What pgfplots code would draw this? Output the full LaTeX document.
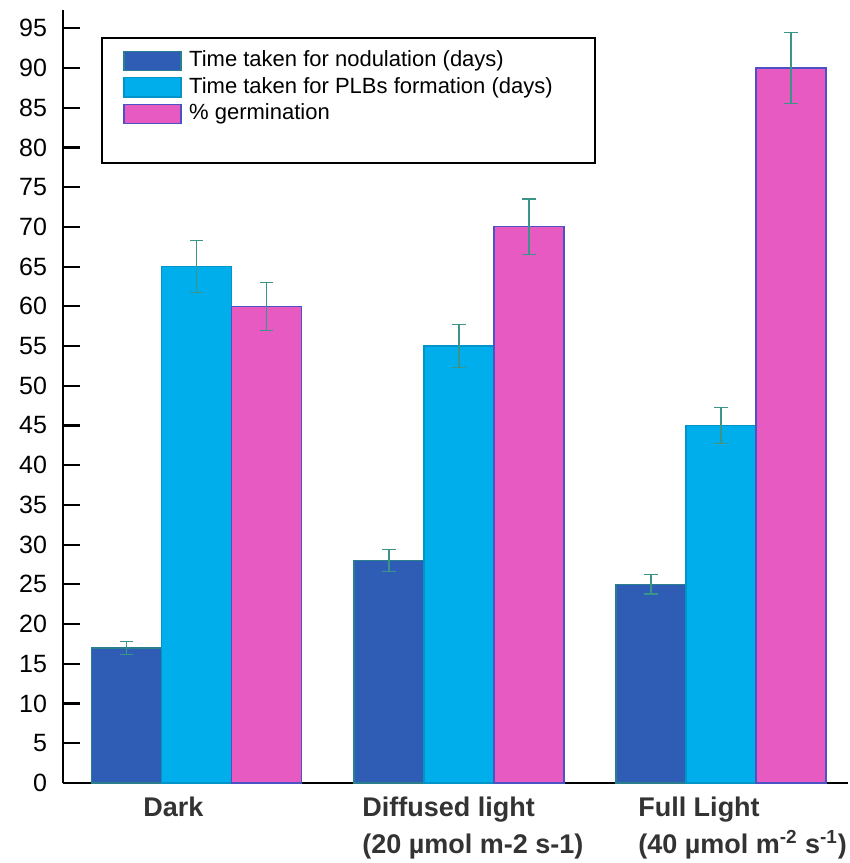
\documentclass[border=0pt]{standalone}
\usepackage{pgfplots}
\pgfplotsset{compat=1.18}
\usepackage{fontspec}
\setmainfont{Liberation Sans}
\definecolor{nodc}{HTML}{2F5DB6}
\definecolor{nodedge}{HTML}{2A7F8F}
\definecolor{plbc}{HTML}{00AEEB}
\definecolor{germc}{HTML}{E65AC2}
\definecolor{germedge}{HTML}{4A52C4}
\definecolor{errc}{HTML}{3A9488}
\pgfplotstableread{
x nod nodE plb plbE germ germE
0 17 0.8 65 3.3 60 3.0
1 28 1.4 55 2.7 70 3.5
2 25 1.2 45 2.3 90 4.5
}\datatab
\begin{document}
\begin{tikzpicture}
\path[use as bounding box] (-31.5pt,-40pt) rectangle (393.5pt,391.5pt);
\begin{axis}[
  scale only axis,
  width=392.5pt, height=386.5pt,
  at={(0pt,0pt)}, anchor=south west,
  ybar=0pt, bar width=35pt,
  xmin=-0.511, xmax=2.485,
  ymin=0, ymax=97.3,
  axis x line=bottom, axis y line=left,
  axis line style={-, line width=1.25pt, black},
  xtick=\empty,
  ytick={0,5,...,95},
  tick align=inside,
  major tick length=8.5pt,
  ytick style={line width=1.1pt, black},
  yticklabel style={font=\fontsize{12.5}{14}\selectfont, xshift=-4.5pt},
  /pgf/number format/assume math mode=true,
  legend style={draw=none, fill=none, at={(axis description cs:0.0764,0.9485)}, anchor=north west,
    inner sep=0pt, row sep=2.8pt, font=\fontsize{11}{12}\selectfont,
    nodes={inner sep=0pt, text height=8.2pt, text depth=2.3pt}},
  legend cell align=left,
  error bars/y dir=both, error bars/y explicit,
  error bars/error bar style={color=errc, line width=0.6pt},
  error bars/error mark options={rotate=90, color=errc, mark size=3.3pt, line width=0.6pt},
  clip=false,
]
\addplot[fill=nodc, draw=nodedge, line width=0.6pt,
  legend image code/.code={\draw[fill=nodc, draw=nodedge, line width=0.6pt] (0pt,-4.8pt) rectangle (28.5pt,4.8pt); \path (32.3pt,0pt);}]
  table[x=x, y=nod, y error=nodE]{\datatab};
\addlegendentry{Time taken for nodulation (days)}
\addplot[fill=plbc, draw=plbc!85!black, line width=0.6pt,
  legend image code/.code={\draw[fill=plbc, draw=plbc!85!black, line width=0.6pt] (0pt,-4.8pt) rectangle (28.5pt,4.8pt); \path (32.3pt,0pt);}]
  table[x=x, y=plb, y error=plbE]{\datatab};
\addlegendentry{Time taken for PLBs formation (days)}
\addplot[fill=germc, draw=germedge, line width=0.6pt,
  legend image code/.code={\draw[fill=germc, draw=germedge, line width=0.6pt] (0pt,-4.8pt) rectangle (28.5pt,4.8pt); \path (32.3pt,0pt);}]
  table[x=x, y=germ, y error=germE]{\datatab};
\addlegendentry{\% germination}
\draw[line width=1.1pt, black] (axis description cs:0.0496,0.9638) rectangle (axis description cs:0.6777,0.802);
\node[anchor=north west, inner sep=0pt, align=left, font=\fontsize{13.5}{18.5}\selectfont\bfseries, text=black!80] at (axis cs:-0.206,0) [yshift=-7pt] {Dark};
\node[anchor=north west, inner sep=0pt, align=left, font=\fontsize{13.5}{18.5}\selectfont\bfseries, text=black!80] at (axis cs:0.630,0) [yshift=-7pt] {Diffused light\\(20 µmol m-2 s-1)};
\node[anchor=north west, inner sep=0pt, align=left, font=\fontsize{13.5}{18.5}\selectfont\bfseries, text=black!80] at (axis cs:1.683,0) [yshift=-7pt] {Full Light\\(40 µmol m\textsuperscript{-2} s\textsuperscript{-1})};
\end{axis}
\end{tikzpicture}
\end{document}
